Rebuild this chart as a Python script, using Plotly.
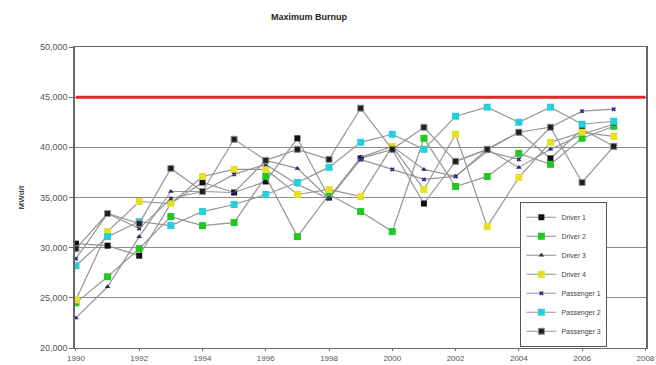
import plotly.graph_objects as go

# Fuel assembly burnup by year (MWd/t)
years = list(range(1990, 2008))

driver_1 = [30400, 30200, 29200, 34400, 36500, 35500, 36600, 40900, 35000, 38900,
            39800, 34400, 38600, 39800, 41500, 38900, 41800, 40100]
driver_2 = [24500, 27100, 29900, 33100, 32200, 32500, 37100, 31100, 35300, 33600,
            31600, 40900, 36100, 37100, 39400, 38300, 40900, 42100]
driver_3 = [23000, 26100, 31100, 35600, 35600, 35500, 38700, 37900, 34900, 39000,
            40100, 37800, 37100, 39800, 38000, 39800, 41300, 42300]
driver_4 = [24800, 31600, 34600, 34400, 37100, 37800, 37800, 35300, 35800, 35100,
            40100, 35800, 41300, 32100, 37000, 40500, 41500, 41100]
passenger_1 = [28900, 33400, 31900, 34900, 35600, 37300, 38300, 36300, 34900, 38800,
               37800, 36800, 37100, 39600, 38800, 42000, 43600, 43800]
passenger_2 = [28200, 31100, 32600, 32200, 33600, 34300, 35300, 36500, 38000, 40500,
               41300, 39800, 43100, 44000, 42500, 44000, 42300, 42600]
passenger_3 = [29900, 33400, 32400, 37900, 35600, 40800, 38700, 39800, 38800, 43900,
               39800, 42000, 38600, 39800, 41500, 42000, 36500, 40100]

burnup_limit = 45000

y_ticks = [20000, 25000, 30000, 35000, 40000, 45000, 50000]
y_tick_text = ["20,000", "25,000", "30,000", "35,000", "40,000", "45,000", "50,000"]
x_ticks = list(range(1990, 2009, 2))

series = [
    ("Driver 1", driver_1, dict(symbol="square", size=6, color="#101010")),
    ("Driver 2", driver_2, dict(symbol="square", size=7, color="#22c822")),
    ("Driver 3", driver_3, dict(symbol="triangle-up", size=5, color="#25257a")),
    ("Driver 4", driver_4, dict(symbol="square", size=7, color="#e6e025")),
    ("Passenger 1", passenger_1, dict(symbol="x", size=4, color="#2a2a80")),
    ("Passenger 2", passenger_2, dict(symbol="square", size=7, color="#25cfdc")),
    ("Passenger 3", passenger_3, dict(symbol="square", size=6, color="#202020",
                                       line=dict(color="#909090", width=1))),
]

fig = go.Figure()
for name, vals, marker in series:
    fig.add_trace(go.Scatter(
        x=years, y=vals, name=name, mode="lines+markers",
        line=dict(color="#959595", width=1.2),
        marker=marker,
    ))

# Burnup limit
fig.add_trace(go.Scatter(
    x=[1990, 2008], y=[burnup_limit, burnup_limit], mode="lines",
    line=dict(color="#e02828", width=3), showlegend=False, hoverinfo="skip",
))

fig.update_layout(
    width=656, height=365,
    margin=dict(l=75, r=10, t=47, b=17),
    paper_bgcolor="white", plot_bgcolor="white",
    font=dict(family="Arial, Liberation Sans, sans-serif", color="#333333"),
    title=dict(text="<b>Maximum Burnup</b>", x=0.471, xanchor="center",
               y=0.955, yanchor="middle", font=dict(size=9, color="#222222")),
    showlegend=True,
    legend=dict(x=0.78, xanchor="left", y=0.245, yanchor="middle",
                bgcolor="white", bordercolor="#555555", borderwidth=1,
                font=dict(size=7, color="#444444"), tracegroupgap=0,
                itemwidth=30),
)
fig.update_xaxes(
    range=[1989.97, 2008.02], tickvals=x_ticks, ticktext=[str(t) for t in x_ticks],
    showgrid=False, showline=True, linecolor="#666666", linewidth=1,
    mirror=True, ticks="outside", ticklen=2, tickcolor="#666666",
    tickfont=dict(size=8, color="#555555"), automargin=False,
    ticklabeloverflow="allow",
)
fig.update_yaxes(
    range=[20000, 50000], tickvals=y_ticks, ticktext=y_tick_text,
    showgrid=True, gridcolor="#8c8c8c", gridwidth=1,
    showline=True, linecolor="#666666", linewidth=1.5, mirror=True,
    ticks="outside", ticklen=4, tickcolor="#666666", zeroline=False,
    tickfont=dict(size=9, color="#555555"), automargin=False,
    title=dict(text="<b>MWd/t</b>", font=dict(size=8, color="#444444"), standoff=14),
)

fig.write_html("out.html")
